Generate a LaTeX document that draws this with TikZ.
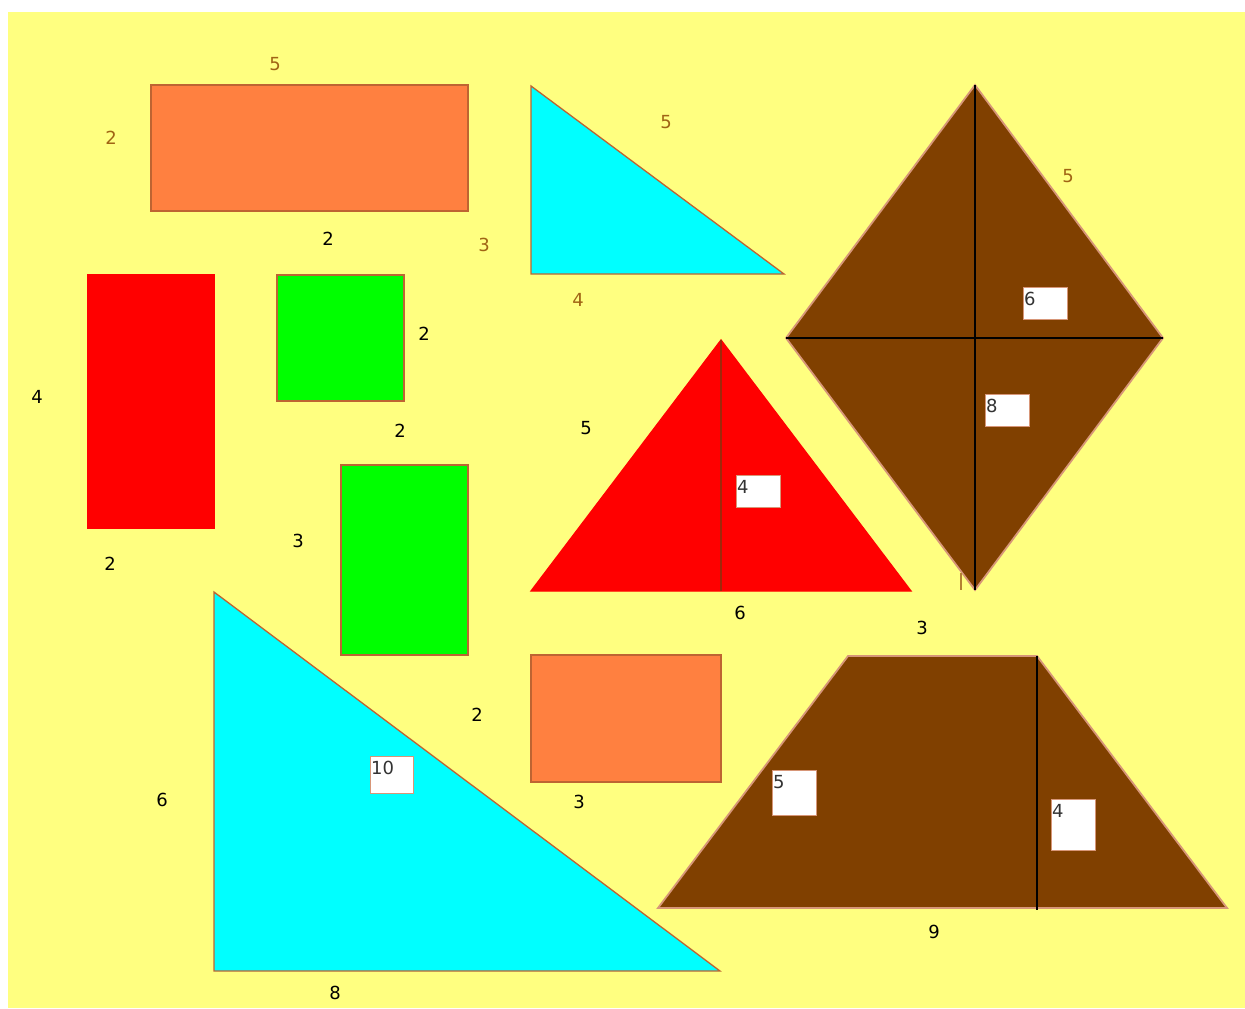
\documentclass[tikz,border=0pt]{standalone}
\usepackage{fontspec}
\setmainfont{DejaVu Sans}
\usepackage{tikz}
\definecolor{bgyellow}{RGB}{255,255,128}
\definecolor{orangefill}{RGB}{255,128,64}
\definecolor{cyanfill}{RGB}{0,255,255}
\definecolor{redfill}{RGB}{255,0,0}
\definecolor{greenfill}{RGB}{0,255,0}
\definecolor{brownfill}{RGB}{128,64,0}
\definecolor{edgebrown}{RGB}{190,100,50}
\definecolor{kiteedge}{RGB}{215,150,120}
\definecolor{lblbrown}{RGB}{160,100,20}
\definecolor{heightred}{RGB}{160,40,10}
\definecolor{tickbrown}{RGB}{180,130,50}
\tikzstyle{piece} = [draw=edgebrown, line width=1.3pt]
\tikzstyle{brownpiece} = [draw=kiteedge, fill=brownfill, line width=1.8pt]
\tikzstyle{lbl} = [inner sep=0pt, font=\fontsize{18}{20}\selectfont, text=black]
\tikzstyle{brownlbl} = [lbl, text=lblbrown]
\tikzstyle{valbox} = [draw=kiteedge, fill=white, line width=0.8pt, anchor=north west,
    minimum width=44pt, minimum height=32pt, inner sep=0pt]
\tikzstyle{boxtext} = [anchor=north west, inner sep=1pt, yshift=-4pt,
    font=\fontsize{18}{20}\selectfont, text=black!80]

\begin{document}
\begin{tikzpicture}[x=1pt,y=-1pt]
        \useasboundingbox (0,0) rectangle (1245,1009);
        \fill[white] (0,0) rectangle (1245,1009);
        \fill[bgyellow] (8,12) rectangle (1245,1008);

        % rectangles and squares
        \draw[piece, fill=orangefill] (151,85) rectangle (468,211);
        \draw[piece, draw=redfill, fill=redfill] (88,275) rectangle (214,528);
        \draw[piece, fill=greenfill] (277,275) rectangle (404,401);
        \draw[piece, fill=greenfill] (341,465) rectangle (468,655);
        \draw[piece, fill=orangefill] (531,655) rectangle (721,782);

        % triangles
        \draw[piece, fill=cyanfill] (531,86) -- (531,274) -- (784,274) -- cycle;
        \draw[piece, fill=cyanfill] (214,592) -- (214,971) -- (720,971) -- cycle;
        \draw[piece, draw=redfill, fill=redfill] (531,591) -- (721,340) -- (911,591) -- cycle;
        \draw[line width=1.4pt, draw=heightred] (721,340) -- (721,591);

        % kite
        \draw[brownpiece] (975,85) -- (1163,338) -- (975,590) -- (786,338) -- cycle;
        \draw[line width=1.2pt] (975,85) -- (975,590);
        \draw[line width=1.2pt] (786,338) -- (1163,338);
        \draw[line width=1.3pt, draw=tickbrown] (961,573) -- (961,590);

        % trapezoid
        \draw[brownpiece] (658,908) -- (848,656) -- (1037,656) -- (1227,908) -- cycle;
        \draw[line width=1.2pt] (1037,656) -- (1037,910);

        % value boxes
        \node[valbox] (boxfour) at (736,475) {};
        \node[boxtext] at (boxfour.north west) {4};
        \node[valbox] (boxsix) at (1023,287) {};
        \node[boxtext] at (boxsix.north west) {6};
        \node[valbox] (boxeight) at (985,394) {};
        \node[boxtext] at (boxeight.north west) {8};
        \node[valbox, minimum width=43pt, minimum height=37pt] (boxten) at (370,756) {};
        \node[boxtext] at (boxten.north west) {10};
        \node[valbox, minimum height=45pt] (boxfive) at (772,770) {};
        \node[boxtext] at (boxfive.north west) {5};
        \node[valbox, minimum height=51pt] (boxfourb) at (1051,799) {};
        \node[boxtext] at (boxfourb.north west) {4};

        % side labels
        \node[brownlbl] (orangetop) at (275,64) {5};
        \node[brownlbl] (orangeleft) at (111,138) {2};
        \node[lbl] (orangebottom) at (328,239) {2};
        \node[brownlbl] (cyanleft) at (484,245) {3};
        \node[brownlbl] (cyanhyp) at (666,122) {5};
        \node[brownlbl] (cyanbottom) at (578,300) {4};
        \node[brownlbl] (kiteside) at (1068,176) {5};
        \node[lbl] (redleft) at (37,397) {4};
        \node[lbl] (redbottom) at (110,564) {2};
        \node[lbl] (sqright) at (424,334) {2};
        \node[lbl] (sqbottom) at (400,431) {2};
        \node[lbl] (greenleft) at (298,541) {3};
        \node[lbl] (redtriside) at (586,428) {5};
        \node[lbl] (redtribase) at (740,613) {6};
        \node[lbl] (trapside) at (922,628) {3};
        \node[lbl] (orangetwoleft) at (477,715) {2};
        \node[lbl] (orangetwobottom) at (579,802) {3};
        \node[lbl] (bigleft) at (162,800) {6};
        \node[lbl] (bigbottom) at (335,993) {8};
        \node[lbl] (trapbase) at (934,932) {9};
    \end{tikzpicture}
\end{document}
